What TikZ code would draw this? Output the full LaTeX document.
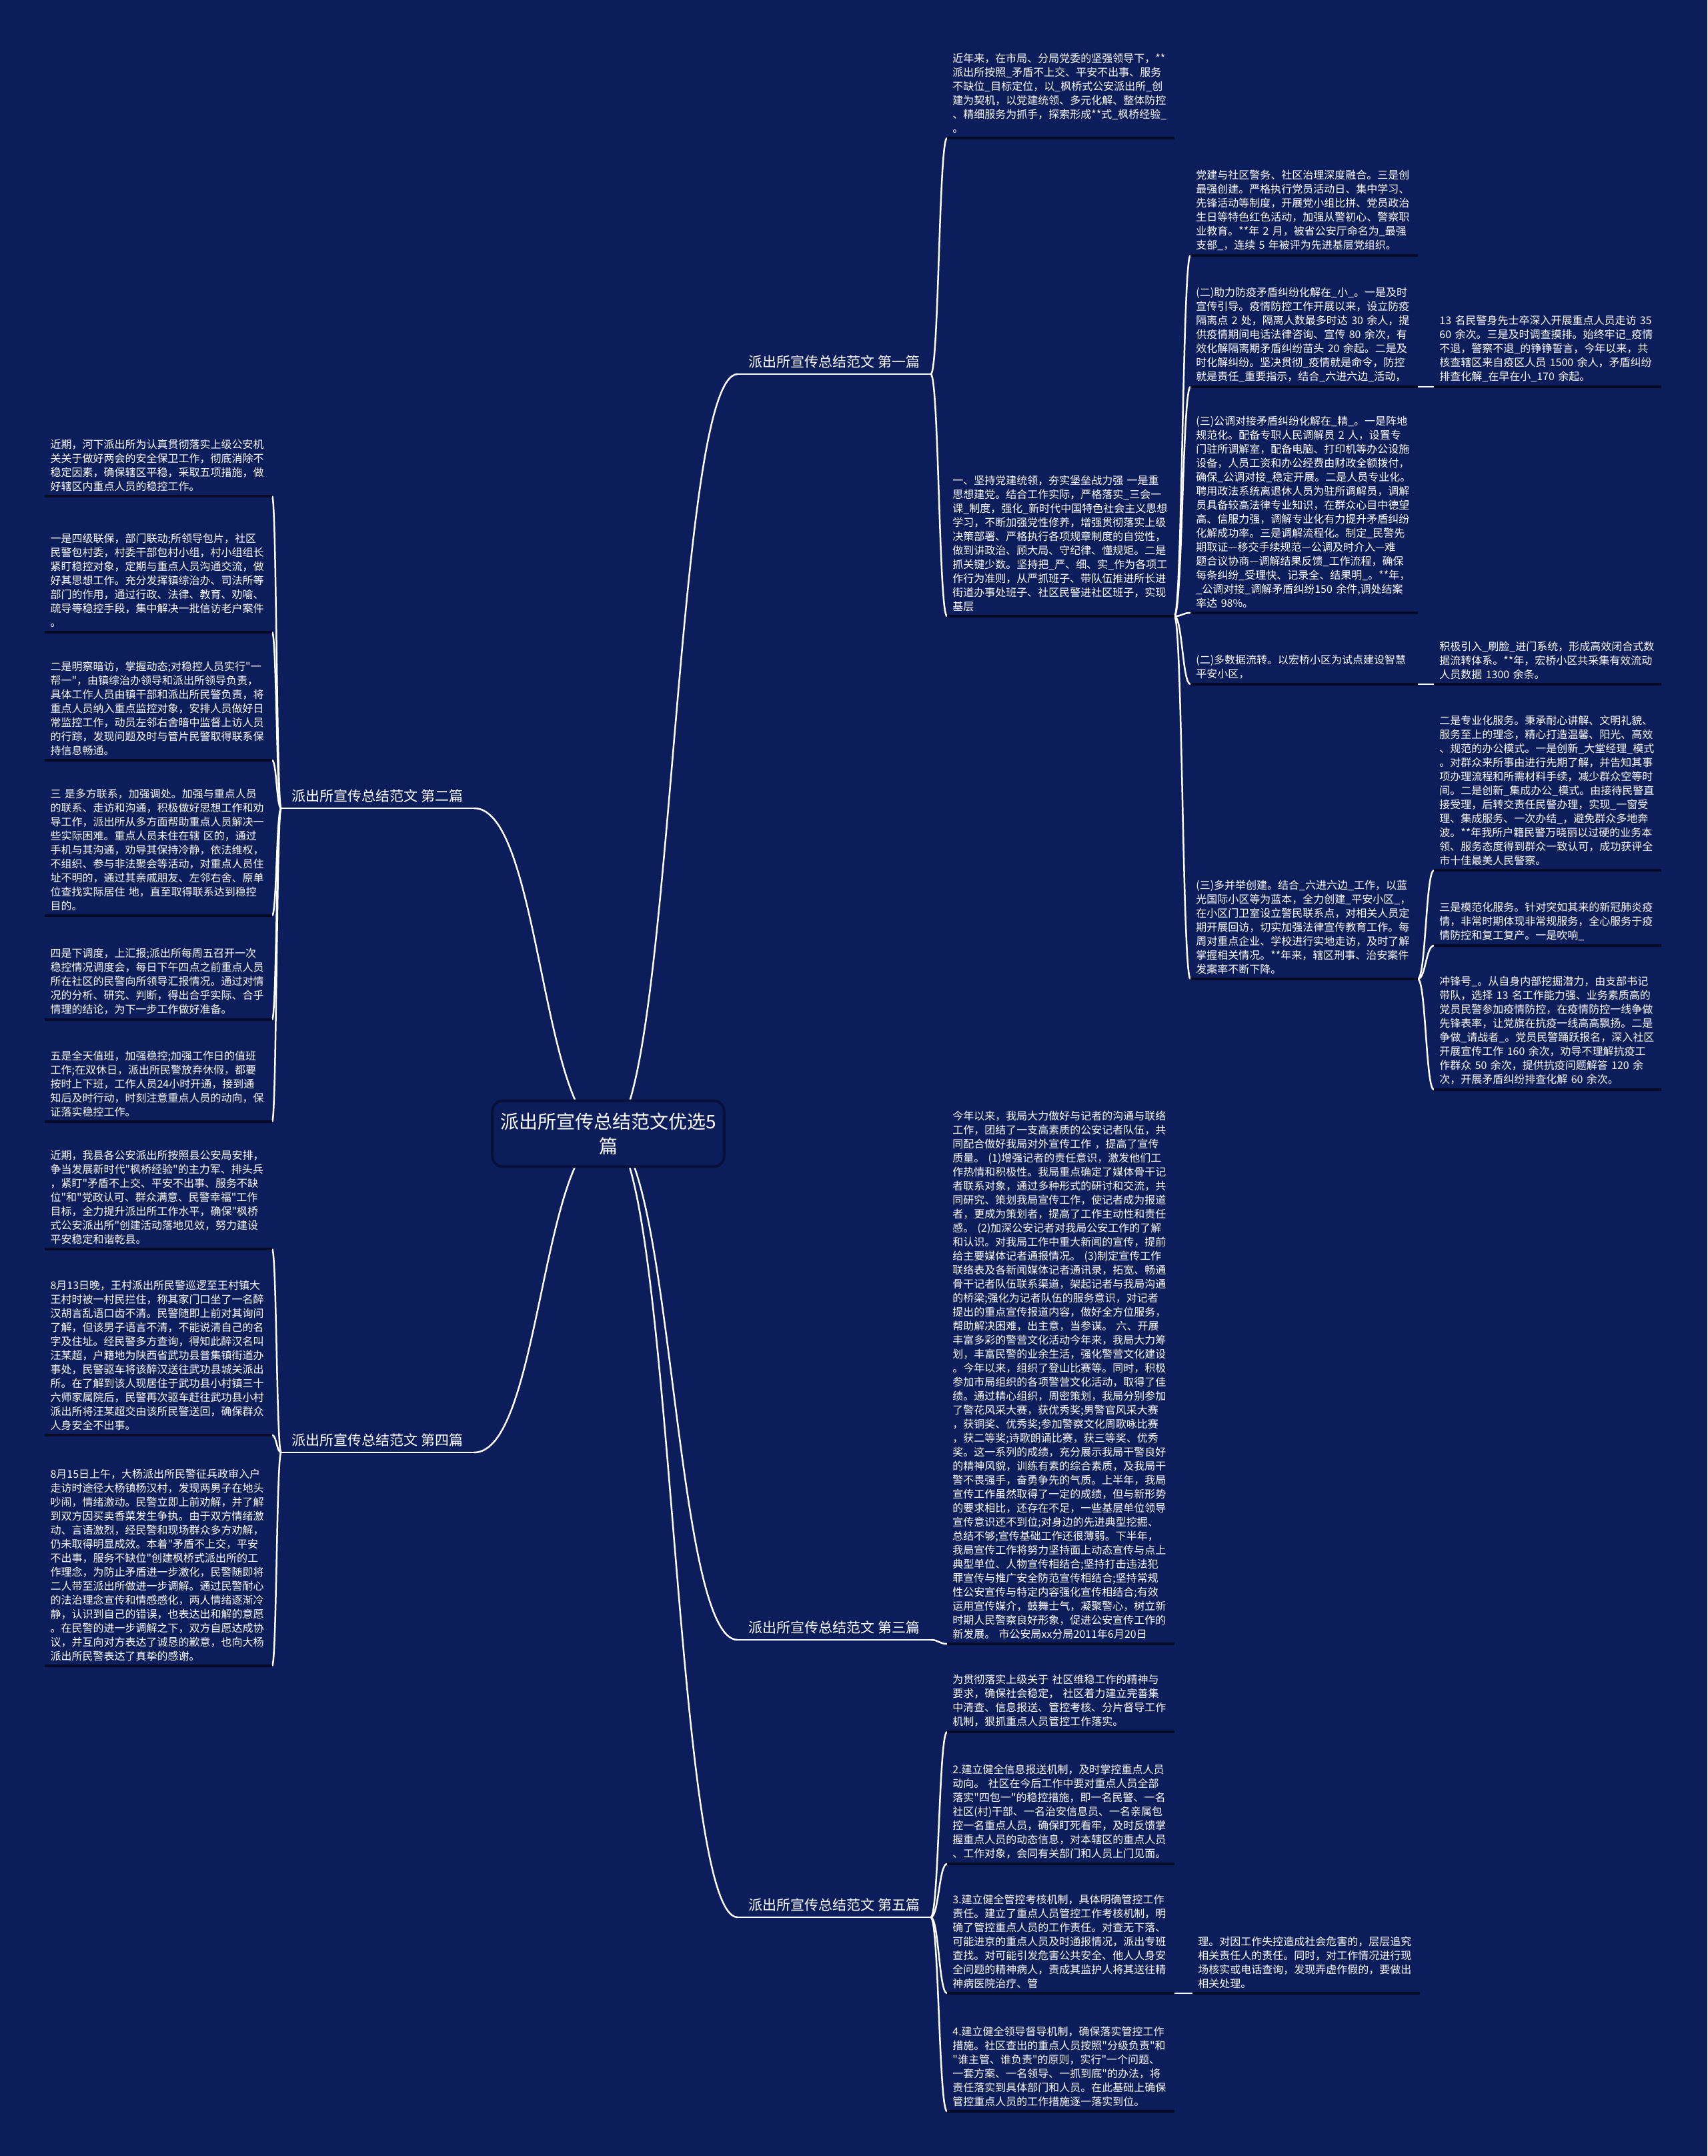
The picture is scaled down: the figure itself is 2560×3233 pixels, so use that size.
\documentclass[tikz,border=0pt]{standalone}
\usepackage{fontspec}
\setmainfont{Noto Sans CJK SC}[Ligatures=TeXOff]
\usepackage{tikz}
\usetikzlibrary{calc}
\definecolor{mapBg}{HTML}{0B1D5A}
\definecolor{mapLine}{HTML}{FFFFFF}
\definecolor{mapRule}{HTML}{050B26}
\definecolor{mapRoot}{HTML}{0B1D5A}
\definecolor{mapRootEdge}{HTML}{08113A}
\pgfdeclarelayer{bg}
\pgfdeclarelayer{links}
\pgfsetlayers{bg,links,main}
\tikzset{
  rootbox/.style={
    rectangle, rounded corners=8pt, draw=mapRootEdge, line width=2pt,
    fill=mapRoot, text=white, align=center, inner xsep=6pt, inner ysep=9pt,
    font=\fontsize{14pt}{18.5pt}\selectfont
  },
  title/.style={
    text=white, inner xsep=8pt, inner ysep=4pt,
    font=\fontsize{10.5pt}{13pt}\selectfont
  },
  para/.style={
    text=white, align=left, text width=162pt, inner xsep=4pt, inner ysep=3.5pt,
    font=\fontsize{8pt}{10.5pt}\selectfont
  },
  conn/.style={draw=mapLine, line width=1.25pt},
  uline/.style={draw=mapRule, line width=1.6pt},
  tline/.style={draw=mapLine, line width=1.4pt},
  link/.style={to path={
    let \p1=(\tikztostart), \p2=(\tikztotarget) in
    .. controls ({(\x1+\x2)/2},\y1) and ({(\x1+\x2)/2},\y2) .. (\tikztotarget)}},
}

\begin{document}
\begin{tikzpicture}[x=0.5pt, y=-0.5pt]
  \begin{pgfonlayer}{bg}
    \fill[mapBg] (0,0) rectangle (2560,3233);
  \end{pgfonlayer}
  \useasboundingbox (0,0) rectangle (2560,3233);

  % centre
  \node[rootbox] (root) at (912,1700) {派出所宣传总结范文优选5\\篇};

  % five branches
  \node[title, anchor=south west] (t1) at (1106,561)  {派出所宣传总结范文 第一篇};
  \node[title, anchor=south east] (t2) at (711,1212)  {派出所宣传总结范文 第二篇};
  \node[title, anchor=south west] (t3) at (1106,2459) {派出所宣传总结范文 第三篇};
  \node[title, anchor=south east] (t4) at (711,2178)  {派出所宣传总结范文 第四篇};
  \node[title, anchor=south west] (t5) at (1106,2875) {派出所宣传总结范文 第五篇};

  % first branch
  \node[para, anchor=south west] (p1a) at (1420,207) {近年来，在市局、分局党委的坚强领导下，**\\派出所按照\_矛盾不上交、平安不出事、服务\\不缺位\_目标定位，以\_枫桥式公安派出所\_创\\建为契机，以党建统领、多元化解、整体防控\\、精细服务为抓手，探索形成**式\_枫桥经验\_\\。};
  \node[para, anchor=south west] (p1b) at (1420,924) {一、坚持党建统领，夯实堡垒战力强 一是重\\思想建党。结合工作实际，严格落实\_三会一\\课\_制度，强化\_新时代中国特色社会主义思想\\学习，不断加强党性修养，增强贯彻落实上级\\决策部署、严格执行各项规章制度的自觉性，\\做到讲政治、顾大局、守纪律、懂规矩。二是\\抓关键少数。坚持把\_严、细、实\_作为各项工\\作行为准则，从严抓班子、带队伍推进所长进\\街道办事处班子、社区民警进社区班子，实现\\基层};
  \node[para, anchor=south west] (p1b1) at (1785,383) {党建与社区警务、社区治理深度融合。三是创\\最强创建。严格执行党员活动日、集中学习、\\先锋活动等制度，开展党小组比拼、党员政治\\生日等特色红色活动，加强从警初心、警察职\\业教育。**年 2 月，被省公安厅命名为\_最强\\支部\_，连续 5 年被评为先进基层党组织。};
  \node[para, anchor=south west] (p1b2) at (1785,580) {(二)助力防疫矛盾纠纷化解在\_小\_。一是及时\\宣传引导。疫情防控工作开展以来，设立防疫\\隔离点 2 处，隔离人数最多时达 30 余人，提\\供疫情期间电话法律咨询、宣传 80 余次，有\\效化解隔离期矛盾纠纷苗头 20 余起。二是及\\时化解纠纷。坚决贯彻\_疫情就是命令，防控\\就是责任\_重要指示，结合\_六进六边\_活动，};
  \node[para, anchor=south west] (p1b2a) at (2150,580) {13 名民警身先士卒深入开展重点人员走访 35\\60 余次。三是及时调查摸排。始终牢记\_疫情\\不退，警察不退\_的铮铮誓言，今年以来，共\\核查辖区来自疫区人员 1500 余人，矛盾纠纷\\排查化解\_在早在小\_170 余起。};
  \node[para, anchor=south west] (p1b3) at (1785,919) {(三)公调对接矛盾纠纷化解在\_精\_。一是阵地\\规范化。配备专职人民调解员 2 人，设置专\\门驻所调解室，配备电脑、打印机等办公设施\\设备，人员工资和办公经费由财政全额拨付，\\确保\_公调对接\_稳定开展。二是人员专业化。\\聘用政法系统离退休人员为驻所调解员，调解\\员具备较高法律专业知识，在群众心目中德望\\高、信服力强，调解专业化有力提升矛盾纠纷\\化解成功率。三是调解流程化。制定\_民警先\\期取证—移交手续规范—公调及时介入—难\\题合议协商—调解结果反馈\_工作流程，确保\\每条纠纷\_受理快、记录全、结果明\_。**年，\\\_公调对接\_调解矛盾纠纷150 余件,调处结案\\率达 98\%。};
  \node[para, anchor=south west] (p1b4) at (1785,1026) {(二)多数据流转。以宏桥小区为试点建设智慧\\平安小区，};
  \node[para, anchor=south west] (p1b4a) at (2150,1026) {积极引入\_刷脸\_进门系统，形成高效闭合式数\\据流转体系。**年，宏桥小区共采集有效流动\\人员数据 1300 余条。};
  \node[para, anchor=south west] (p1b5) at (1785,1468) {(三)多并举创建。结合\_六进六边\_工作，以蓝\\光国际小区等为蓝本，全力创建\_平安小区\_，\\在小区门卫室设立警民联系点，对相关人员定\\期开展回访，切实加强法律宣传教育工作。每\\周对重点企业、学校进行实地走访，及时了解\\掌握相关情况。**年来，辖区刑事、治安案件\\发案率不断下降。};
  \node[para, anchor=south west] (p1b5a) at (2150,1305) {二是专业化服务。秉承耐心讲解、文明礼貌、\\服务至上的理念，精心打造温馨、阳光、高效\\、规范的办公模式。一是创新\_大堂经理\_模式\\。对群众来所事由进行先期了解，并告知其事\\项办理流程和所需材料手续，减少群众空等时\\间。二是创新\_集成办公\_模式。由接待民警直\\接受理，后转交责任民警办理，实现\_一窗受\\理、集成服务、一次办结\_，避免群众多地奔\\波。**年我所户籍民警万晓丽以过硬的业务本\\领、服务态度得到群众一致认可，成功获评全\\市十佳最美人民警察。};
  \node[para, anchor=south west] (p1b5b) at (2150,1418) {三是模范化服务。针对突如其来的新冠肺炎疫\\情，非常时期体现非常规服务，全心服务于疫\\情防控和复工复产。一是吹响\_};
  \node[para, anchor=south west] (p1b5c) at (2150,1634) {冲锋号\_。从自身内部挖掘潜力，由支部书记\\带队，选择 13 名工作能力强、业务素质高的\\党员民警参加疫情防控，在疫情防控一线争做\\先锋表率，让党旗在抗疫一线高高飘扬。二是\\争做\_请战者\_。党员民警踊跃报名，深入社区\\开展宣传工作 160 余次，劝导不理解抗疫工\\作群众 50 余次，提供抗疫问题解答 120 余\\次，开展矛盾纠纷排查化解 60 余次。};

  % second branch
  \node[para, anchor=south east] (p2a) at (408,744) {近期，河下派出所为认真贯彻落实上级公安机\\关关于做好两会的安全保卫工作，彻底消除不\\稳定因素，确保辖区平稳，采取五项措施，做\\好辖区内重点人员的稳控工作。};
  \node[para, anchor=south east] (p2b) at (408,948) {一是四级联保，部门联动;所领导包片，社区\\民警包村委，村委干部包村小组，村小组组长\\紧盯稳控对象，定期与重点人员沟通交流，做\\好其思想工作。充分发挥镇综治办、司法所等\\部门的作用，通过行政、法律、教育、劝喻、\\疏导等稳控手段，集中解决一批信访老户案件\\。};
  \node[para, anchor=south east] (p2c) at (408,1140) {二是明察暗访，掌握动态;对稳控人员实行"一\\帮一"，由镇综治办领导和派出所领导负责，\\具体工作人员由镇干部和派出所民警负责，将\\重点人员纳入重点监控对象，安排人员做好日\\常监控工作，动员左邻右舍暗中监督上访人员\\的行踪，发现问题及时与管片民警取得联系保\\持信息畅通。};
  \node[para, anchor=south east] (p2d) at (408,1373) {三 是多方联系，加强调处。加强与重点人员\\的联系、走访和沟通，积极做好思想工作和劝\\导工作，派出所从多方面帮助重点人员解决一\\些实际困难。重点人员未住在辖 区的，通过\\手机与其沟通，劝导其保持冷静，依法维权，\\不组织、参与非法聚会等活动，对重点人员住\\址不明的，通过其亲戚朋友、左邻右舍、原单\\位查找实际居住 地，直至取得联系达到稳控\\目的。};
  \node[para, anchor=south east] (p2e) at (408,1529) {四是下调度，上汇报;派出所每周五召开一次\\稳控情况调度会，每日下午四点之前重点人员\\所在社区的民警向所领导汇报情况。通过对情\\况的分析、研究、判断，得出合乎实际、合乎\\情理的结论，为下一步工作做好准备。};
  \node[para, anchor=south east] (p2f) at (408,1682) {五是全天值班，加强稳控;加强工作日的值班\\工作;在双休日，派出所民警放弃休假，都要\\按时上下班，工作人员24小时开通，接到通\\知后及时行动，时刻注意重点人员的动向，保\\证落实稳控工作。};

  % third branch
  \node[para, anchor=south west] (p3) at (1420,2465) {今年以来，我局大力做好与记者的沟通与联络\\工作，团结了一支高素质的公安记者队伍，共\\同配合做好我局对外宣传工作 ，提高了宣传\\质量。 (1)增强记者的责任意识，激发他们工\\作热情和积极性。我局重点确定了媒体骨干记\\者联系对象，通过多种形式的研讨和交流，共\\同研究、策划我局宣传工作，使记者成为报道\\者，更成为策划者，提高了工作主动性和责任\\感。 (2)加深公安记者对我局公安工作的了解\\和认识。对我局工作中重大新闻的宣传，提前\\给主要媒体记者通报情况。 (3)制定宣传工作\\联络表及各新闻媒体记者通讯录，拓宽、畅通\\骨干记者队伍联系渠道，架起记者与我局沟通\\的桥梁;强化为记者队伍的服务意识，对记者\\提出的重点宣传报道内容，做好全方位服务，\\帮助解决困难，出主意，当参谋。 六、开展\\丰富多彩的警营文化活动今年来，我局大力筹\\划，丰富民警的业余生活，强化警营文化建设\\。今年以来，组织了登山比赛等。同时，积极\\参加市局组织的各项警营文化活动，取得了佳\\绩。通过精心组织，周密策划，我局分别参加\\了警花风采大赛，获优秀奖;男警官风采大赛\\，获铜奖、优秀奖;参加警察文化周歌咏比赛\\，获二等奖;诗歌朗诵比赛，获三等奖、优秀\\奖。这一系列的成绩，充分展示我局干警良好\\的精神风貌，训练有素的综合素质，及我局干\\警不畏强手，奋勇争先的气质。上半年，我局\\宣传工作虽然取得了一定的成绩，但与新形势\\的要求相比，还存在不足，一些基层单位领导\\宣传意识还不到位;对身边的先进典型挖掘、\\总结不够;宣传基础工作还很薄弱。下半年，\\我局宣传工作将努力坚持面上动态宣传与点上\\典型单位、人物宣传相结合;坚持打击违法犯\\罪宣传与推广安全防范宣传相结合;坚持常规\\性公安宣传与特定内容强化宣传相结合;有效\\运用宣传媒介，鼓舞士气，凝聚警心，树立新\\时期人民警察良好形象，促进公安宣传工作的\\新发展。 市公安局xx分局2011年6月20日};

  % fourth branch
  \node[para, anchor=south east] (p4a) at (408,1873) {近期，我县各公安派出所按照县公安局安排，\\争当发展新时代"枫桥经验"的主力军、排头兵\\，紧盯"矛盾不上交、平安不出事、服务不缺\\位"和"党政认可、群众满意、民警幸福"工作\\目标，全力提升派出所工作水平，确保"枫桥\\式公安派出所"创建活动落地见效，努力建设\\平安稳定和谐乾县。};
  \node[para, anchor=south east] (p4b) at (408,2152) {8月13日晚，王村派出所民警巡逻至王村镇大\\王村时被一村民拦住，称其家门口坐了一名醉\\汉胡言乱语口齿不清。民警随即上前对其询问\\了解，但该男子语言不清，不能说清自己的名\\字及住址。经民警多方查询，得知此醉汉名叫\\汪某超，户籍地为陕西省武功县普集镇街道办\\事处，民警驱车将该醉汉送往武功县城关派出\\所。在了解到该人现居住于武功县小村镇三十\\六师家属院后，民警再次驱车赶往武功县小村\\派出所将汪某超交由该所民警送回，确保群众\\人身安全不出事。};
  \node[para, anchor=south east] (p4c) at (408,2498) {8月15日上午，大杨派出所民警征兵政审入户\\走访时途径大杨镇杨汉村，发现两男子在地头\\吵闹，情绪激动。民警立即上前劝解，并了解\\到双方因买卖香菜发生争执。由于双方情绪激\\动、言语激烈，经民警和现场群众多方劝解，\\仍未取得明显成效。本着"矛盾不上交，平安\\不出事，服务不缺位"创建枫桥式派出所的工\\作理念，为防止矛盾进一步激化，民警随即将\\二人带至派出所做进一步调解。通过民警耐心\\的法治理念宣传和情感感化，两人情绪逐渐冷\\静，认识到自己的错误，也表达出和解的意愿\\。在民警的进一步调解之下，双方自愿达成协\\议，并互向对方表达了诚恳的歉意，也向大杨\\派出所民警表达了真挚的感谢。};

  % fifth branch
  \node[para, anchor=south west] (p5a) at (1420,2597) {为贯彻落实上级关于 社区维稳工作的精神与\\要求，确保社会稳定， 社区着力建立完善集\\中清查、信息报送、管控考核、分片督导工作\\机制，狠抓重点人员管控工作落实。};
  \node[para, anchor=south west] (p5b) at (1420,2795) {2.建立健全信息报送机制，及时掌控重点人员\\动向。 社区在今后工作中要对重点人员全部\\落实"四包一"的稳控措施，即一名民警、一名\\社区(村)干部、一名治安信息员、一名亲属包\\控一名重点人员，确保盯死看牢，及时反馈掌\\握重点人员的动态信息，对本辖区的重点人员\\、工作对象，会同有关部门和人员上门见面。};
  \node[para, anchor=south west] (p5c) at (1420,2989) {3.建立健全管控考核机制，具体明确管控工作\\责任。建立了重点人员管控工作考核机制，明\\确了管控重点人员的工作责任。对查无下落、\\可能进京的重点人员及时通报情况，派出专班\\查找。对可能引发危害公共安全、他人人身安\\全问题的精神病人，责成其监护人将其送往精\\神病医院治疗、管};
  \node[para, anchor=south west] (p5c1) at (1788,2989) {理。对因工作失控造成社会危害的，层层追究\\相关责任人的责任。同时，对工作情况进行现\\场核实或电话查询，发现弄虚作假的，要做出\\相关处理。};
  \node[para, anchor=south west] (p5d) at (1420,3166) {4.建立健全领导督导机制，确保落实管控工作\\措施。社区查出的重点人员按照"分级负责"和\\"谁主管、谁负责"的原则，实行"一个问题、\\一套方案、一名领导、一抓到底"的办法，将\\责任落实到具体部门和人员。在此基础上确保\\管控重点人员的工作措施逐一落实到位。};

  % underlines
  \foreach \n in {t1,t2,t3,t4,t5}
    \draw[tline] (\n.south west) -- (\n.south east);
  \foreach \n in {p1a,p1b,p1b1,p1b2,p1b2a,p1b3,p1b4,p1b4a,p1b5,p1b5a,p1b5b,p1b5c,
                  p2a,p2b,p2c,p2d,p2e,p2f,p3,p4a,p4b,p4c,p5a,p5b,p5c,p5c1,p5d}
    \draw[uline] (\n.south west) -- (\n.south east);

  % connectors
  \begin{pgfonlayer}{links}
    \draw[conn] (root.center) to[link] (t1.south west);
    \draw[conn] (root.center) to[link] (t2.south east);
    \draw[conn] (root.center) to[link] (t3.south west);
    \draw[conn] (root.center) to[link] (t4.south east);
    \draw[conn] (root.center) to[link] (t5.south west);

    \draw[conn] (t1.south east) to[link] (p1a.south west);
    \draw[conn] (t1.south east) to[link] (p1b.south west);
    \draw[conn] (p1b.south east) to[link] (p1b1.south west);
    \draw[conn] (p1b.south east) to[link] (p1b2.south west);
    \draw[conn] (p1b.south east) to[link] (p1b3.south west);
    \draw[conn] (p1b.south east) to[link] (p1b4.south west);
    \draw[conn] (p1b.south east) to[link] (p1b5.south west);
    \draw[conn] (p1b2.south east) to[link] (p1b2a.south west);
    \draw[conn] (p1b4.south east) to[link] (p1b4a.south west);
    \draw[conn] (p1b5.south east) to[link] (p1b5a.south west);
    \draw[conn] (p1b5.south east) to[link] (p1b5b.south west);
    \draw[conn] (p1b5.south east) to[link] (p1b5c.south west);

    \draw[conn] (t2.south west) to[link] (p2a.south east);
    \draw[conn] (t2.south west) to[link] (p2b.south east);
    \draw[conn] (t2.south west) to[link] (p2c.south east);
    \draw[conn] (t2.south west) to[link] (p2d.south east);
    \draw[conn] (t2.south west) to[link] (p2e.south east);
    \draw[conn] (t2.south west) to[link] (p2f.south east);

    \draw[conn] (t3.south east) to[link] (p3.south west);

    \draw[conn] (t4.south west) to[link] (p4a.south east);
    \draw[conn] (t4.south west) to[link] (p4b.south east);
    \draw[conn] (t4.south west) to[link] (p4c.south east);

    \draw[conn] (t5.south east) to[link] (p5a.south west);
    \draw[conn] (t5.south east) to[link] (p5b.south west);
    \draw[conn] (t5.south east) to[link] (p5c.south west);
    \draw[conn] (t5.south east) to[link] (p5d.south west);
    \draw[conn] (p5c.south east) to[link] (p5c1.south west);
  \end{pgfonlayer}
\end{tikzpicture}
\end{document}
